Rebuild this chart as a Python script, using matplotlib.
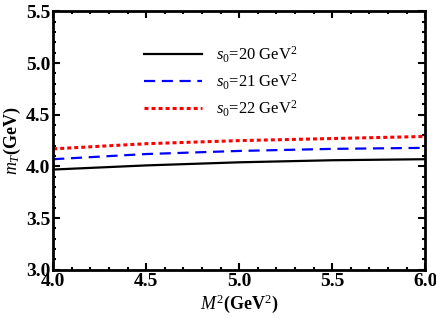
import matplotlib.pyplot as plt
from matplotlib.ticker import MultipleLocator

# borel mass squared (GeV^2) and extracted mass m_T (GeV)
m2 = [4.0, 4.5, 5.0, 5.5, 6.0]
mt_s20 = [3.97, 4.01, 4.04, 4.06, 4.07]
mt_s21 = [4.07, 4.12, 4.15, 4.17, 4.18]
mt_s22 = [4.17, 4.22, 4.25, 4.27, 4.29]
labels = [r'$s_0$=20 GeV$^2$', r'$s_0$=21 GeV$^2$', r'$s_0$=22 GeV$^2$']

plt.rcParams['font.family'] = 'Liberation Serif'
plt.rcParams['mathtext.fontset'] = 'custom'
plt.rcParams['mathtext.rm'] = 'Liberation Serif'
plt.rcParams['mathtext.it'] = 'Liberation Serif:italic'
plt.rcParams['mathtext.bf'] = 'Liberation Serif:bold'

fig, ax = plt.subplots(figsize=(4.36, 3.27), dpi=100)
fig.subplots_adjust(left=0.122, right=0.975, top=0.965, bottom=0.175)

ax.plot(m2, mt_s20, color='black', lw=1.6, label=labels[0])
ax.plot(m2, mt_s21, color='blue', lw=1.6, ls=(0, (5, 3)), label=labels[1])
ax.plot(m2, mt_s22, color='red', lw=2.2, ls=(0, (1.3, 1.0)), label=labels[2])

ax.set_xlim(4.0, 6.0)
ax.set_ylim(3.0, 5.5)
ax.xaxis.set_major_locator(MultipleLocator(0.5))
ax.xaxis.set_minor_locator(MultipleLocator(0.1))
ax.yaxis.set_major_locator(MultipleLocator(0.5))
ax.yaxis.set_minor_locator(MultipleLocator(0.1))
ax.tick_params(which='both', direction='in', top=True, right=True, width=1.5)
ax.tick_params(which='major', length=5, labelsize=14, pad=2)
ax.tick_params(which='minor', length=2.5)
for lab in ax.get_xticklabels() + ax.get_yticklabels():
    lab.set_fontweight('bold')
for sp in ax.spines.values():
    sp.set_linewidth(2)

ax.set_xlabel(r'$M^2$(GeV$^2$)', fontsize=13, fontweight='bold', labelpad=2)
ax.set_ylabel(r'$m_T$(GeV)', fontsize=13, fontweight='bold', labelpad=2)

ax.legend(loc='upper center', bbox_to_anchor=(0.45, 0.93), frameon=False,
          fontsize=12, handlelength=3.5, handletextpad=0.8, labelspacing=0.4)

plt.savefig('out.png', dpi=100)
